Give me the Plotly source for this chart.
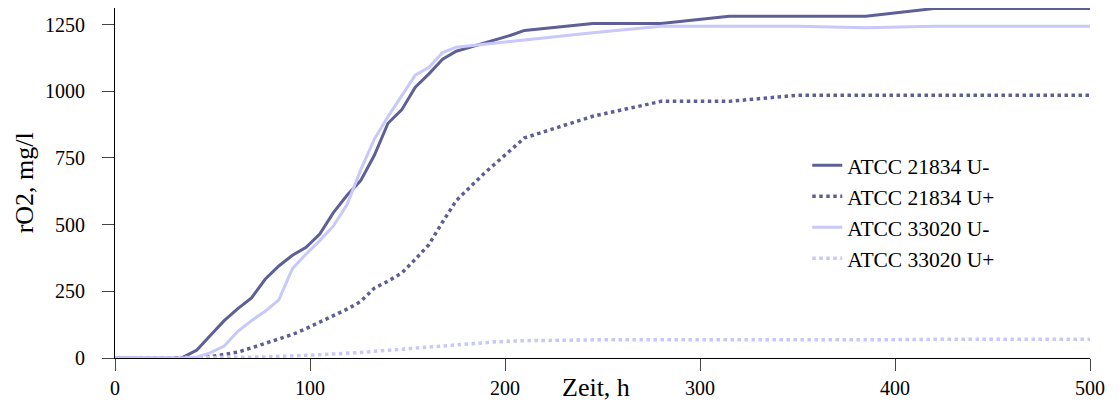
import plotly.graph_objects as go

# sampling times (h)
zeit = [0, 7, 14, 21, 28, 35, 42, 49, 56, 63, 70, 77, 84, 91, 98, 105, 112, 119, 126,
        133, 140, 147, 154, 161, 168, 175, 182, 189, 196, 203, 210, 245, 280, 315, 350,
        385, 420, 500]

atcc21834_u_minus = [0, 0, 0, 0, 0, 3, 30, 85, 140, 185, 225, 295, 345, 385, 415, 465, 545,
                     610, 665, 760, 880, 930, 1015, 1065, 1120, 1150, 1165, 1180, 1195, 1210,
                     1228, 1254, 1254, 1281, 1281, 1281, 1310, 1310]
atcc21834_u_plus = [0, 0, 0, 0, 0, 0, 0, 5, 12, 22, 38, 55, 70, 88, 110, 135, 160, 183, 212,
                    262, 288, 318, 370, 425, 510, 590, 640, 690, 735, 780, 825, 906, 962, 962,
                    985, 985, 985, 985]
atcc33020_u_minus = [0, 0, 0, 0, 0, 0, 3, 20, 45, 100, 140, 175, 218, 335, 390, 440, 495,
                     575, 705, 820, 905, 985, 1060, 1090, 1145, 1165, 1170, 1175, 1180, 1185,
                     1192, 1219, 1244, 1244, 1244, 1238, 1244, 1244]
atcc33020_u_plus = [0, 0, 0, 0, 0, 0, 0, 0, 0, 2, 3, 4, 5, 7, 10, 12, 14, 17, 21, 25, 29, 33,
                    38, 43, 48, 52, 55, 58, 61, 63, 65, 68, 67, 67, 68, 68, 70, 70]

series_names = ["ATCC 21834 U-", "ATCC 21834 U+", "ATCC 33020 U-", "ATCC 33020 U+"]
x_ticks = [0, 100, 200, 300, 400, 500]
y_ticks = [0, 250, 500, 750, 1000, 1250]

DARK = "#5f5f97"
LIGHT = "#c8c8fb"
FONT = "Liberation Serif"

fig = go.Figure()
styles = [
    (atcc21834_u_minus, DARK, "solid", 3),
    (atcc21834_u_plus, DARK, "dot", 3.5),
    (atcc33020_u_minus, LIGHT, "solid", 3),
    (atcc33020_u_plus, LIGHT, "dot", 3.5),
]
for name, (vals, col, dash, w) in zip(series_names, styles):
    fig.add_trace(go.Scatter(x=zeit, y=vals, mode="lines", name=name,
                             line=dict(color=col, dash=dash, width=w)))

fig.update_layout(
    width=1110, height=395,
    margin=dict(l=107, r=28, t=0, b=45),
    paper_bgcolor="white", plot_bgcolor="white",
    font=dict(family=FONT, size=20, color="black"),
    showlegend=True,
    legend=dict(x=0.710, y=0.609, xanchor="left", yanchor="top",
                bgcolor="rgba(0,0,0,0)", font=dict(family=FONT, size=21.5),
                itemwidth=30, tracegroupgap=0),
    xaxis=dict(range=[0, 500], tickvals=x_ticks, showgrid=False, zeroline=False,
               showline=True, linecolor="black", linewidth=1, automargin=False,
               ticks="outside", ticklen=12, tickcolor="#444", tickwidth=1,
               tickfont=dict(family=FONT, size=20)),
    yaxis=dict(range=[0, 1312], tickvals=y_ticks, showgrid=False, zeroline=False,
               showline=True, linecolor="black", linewidth=1, automargin=False,
               ticks="outside", ticklen=12, tickcolor="#444", tickwidth=1,
               ticklabelstandoff=13,
               tickfont=dict(family=FONT, size=20)),
    annotations=[
        dict(text="Zeit, h", xref="paper", yref="paper", x=0.493, y=-0.0857,
             xanchor="center", yanchor="middle", showarrow=False,
             font=dict(family=FONT, size=26)),
        dict(text="rO2, mg/l", xref="paper", yref="paper", x=-0.093, y=0.5,
             xanchor="center", yanchor="middle", showarrow=False, textangle=-90,
             font=dict(family=FONT, size=26)),
    ],
)

fig.write_html("out.html")
